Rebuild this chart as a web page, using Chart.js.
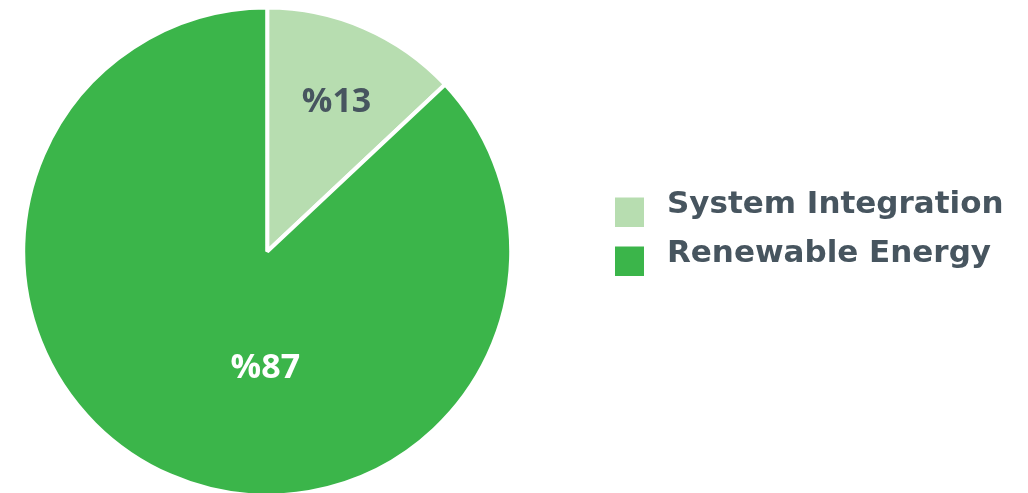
<!DOCTYPE html>
<html>
<head>
<meta charset="utf-8">
<script src="https://cdn.jsdelivr.net/npm/chart.js@4"></script>
<style>
  html, body { margin: 0; padding: 0; background: #fff; overflow: hidden; }
  /* a tela é mais larga e começa fora da página, assim a pizza fica mais à esquerda */
  #box { width: 1084px; height: 493px; position: absolute; left: -56px; top: 0; }
</style>
</head>
<body>
<div id="box"><canvas id="pizza"></canvas></div>
<script>
// dados do gráfico
const categorias = ['System Integration', 'Renewable Energy'];
const percentuais = [13, 87];
const cores = ['#b7ddb0', '#3bb54a'];
const coresRotulo = ['#47555f', '#ffffff'];

const corTexto = '#47555f';

// quadradinho da legenda (desenhado um pouco abaixo do meio do texto)
function quadrado(cor) {
    const c = document.createElement('canvas');
    c.width = 29;
    c.height = 44;
    const g = c.getContext('2d');
    g.fillStyle = cor;
    g.fillRect(0, 15, 29, 29);
    return c;
}

// escreve "%13" / "%87" dentro de cada fatia
const rotulosFatias = {
    id: 'rotulosFatias',
    afterDatasetsDraw(chart, args, opts) {
        const ctx = chart.ctx;
        const meta = chart.getDatasetMeta(0);
        ctx.save();
        ctx.font = "700 34px 'Open Sans', sans-serif";
        ctx.textAlign = 'center';
        ctx.textBaseline = 'middle';
        meta.data.forEach((arco, i) => {
            const p = arco.getProps(['x', 'y', 'startAngle', 'endAngle', 'outerRadius'], true);
            const pos = opts.posicoes[i];
            const ang = (p.startAngle + p.endAngle) / 2 + pos.giro * Math.PI / 180;
            const r = p.outerRadius * pos.dist;
            ctx.fillStyle = coresRotulo[i];
            ctx.fillText('%' + percentuais[i], p.x + Math.cos(ang) * r, p.y + Math.sin(ang) * r);
        });
        ctx.restore();
    }
};

const ctx = document.getElementById('pizza').getContext('2d');
const grafico = new Chart(ctx, {
    type: 'pie',
    data: {
        labels: categorias,
        datasets: [{
            data: percentuais,
            backgroundColor: cores,
            borderColor: '#ffffff',
            borderWidth: 4,
            radius: 244
        }]
    },
    options: {
        responsive: true,
        maintainAspectRatio: false,
        animation: false,
        layout: {
            padding: { left: 0, top: 10, bottom: 0, right: 14.5 }
        },
        plugins: {
            tooltip: { enabled: false },
            legend: {
                position: 'right',
                align: 'start',
                title: {
                    display: true,
                    text: '',
                    font: { size: 12 },
                    padding: { top: 73.3, bottom: 73.3 }
                },
                labels: {
                    usePointStyle: true,
                    pointStyleWidth: 43,
                    padding: 18,
                    color: corTexto,
                    font: { family: "'DejaVu Sans', sans-serif", size: 31, weight: 'bold' },
                    generateLabels(chart) {
                        return categorias.map((c, i) => ({
                            text: c,
                            fillStyle: cores[i],
                            lineWidth: 0,
                            pointStyle: quadrado(cores[i]),
                            fontColor: corTexto,
                            index: i
                        }));
                    }
                }
            },
            rotulosFatias: {
                posicoes: [{ giro: 1.5, dist: 0.675 }, { giro: -22.5, dist: 0.48 }]
            }
        }
    },
    plugins: [rotulosFatias]
});
</script>
</body>
</html>
